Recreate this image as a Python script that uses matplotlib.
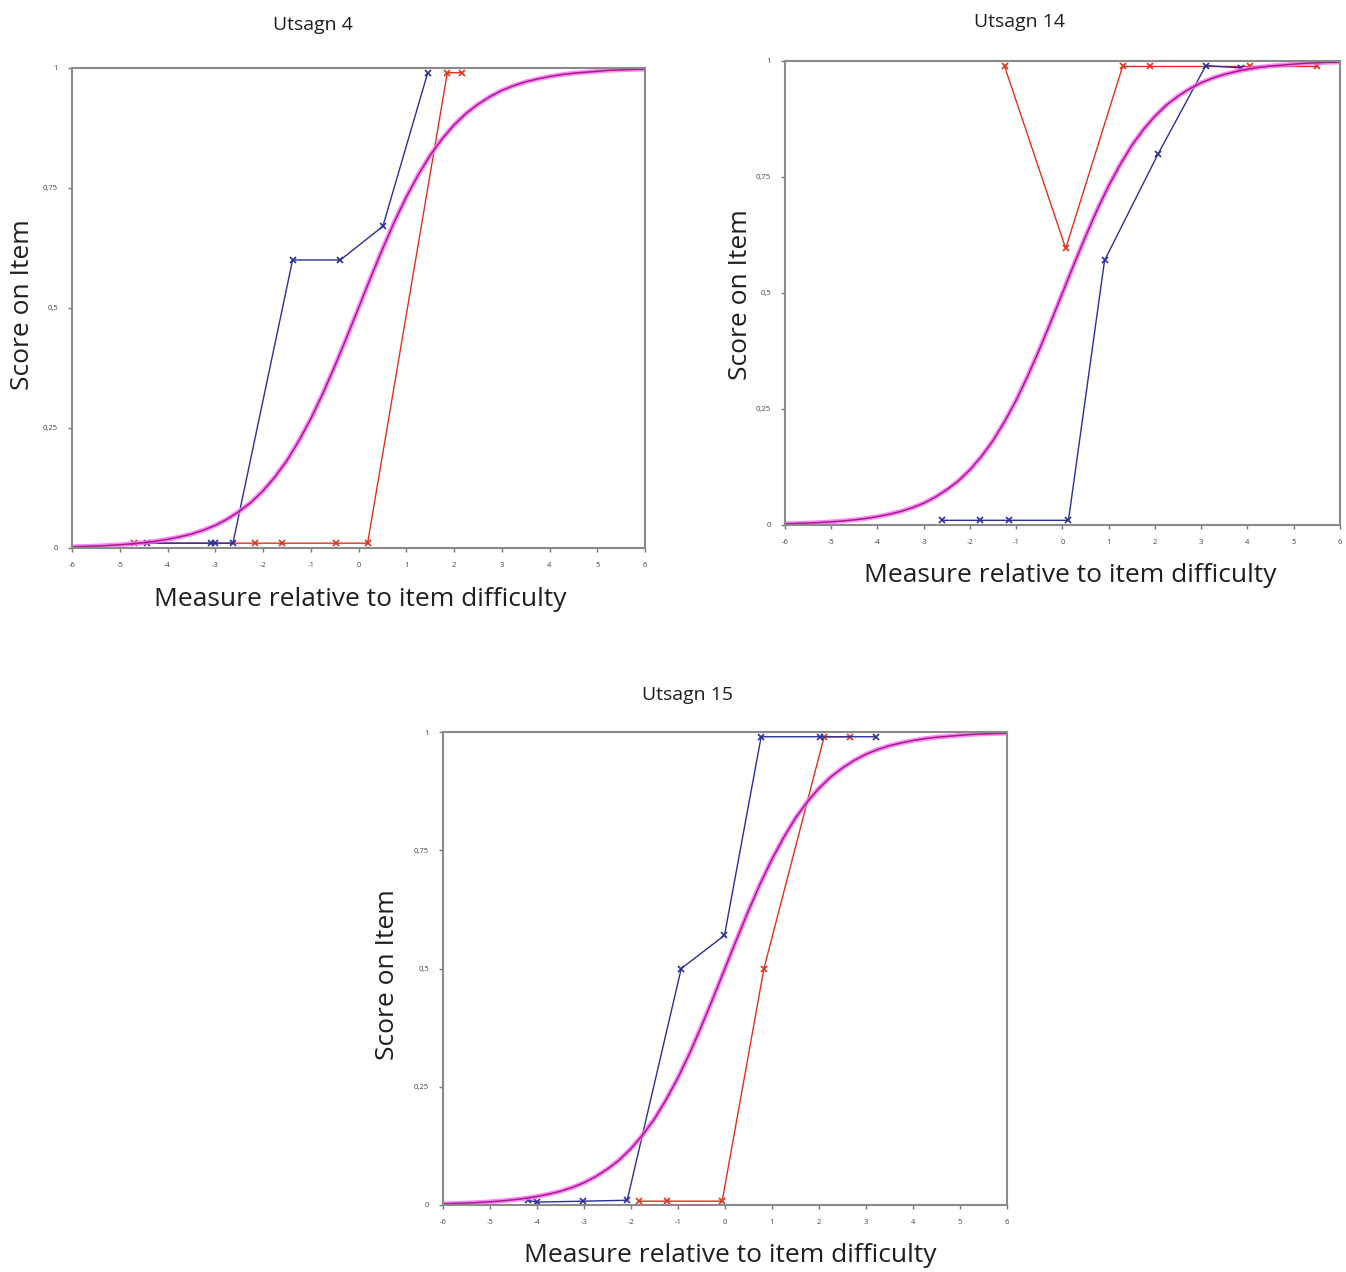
import numpy as np
import matplotlib
matplotlib.use("Agg")
import matplotlib.pyplot as plt

plt.rcParams['font.family'] = ['Open Sans', 'DejaVu Sans']

model_x = np.arange(-6, 6.01, 0.25)
model_y = [0.0025, 0.0032, 0.0041, 0.0052, 0.0067, 0.0086, 0.011, 0.014,
           0.018, 0.023, 0.029, 0.037, 0.047, 0.060, 0.076, 0.095,
           0.119, 0.148, 0.182, 0.223, 0.269, 0.321, 0.378, 0.438,
           0.500,
           0.562, 0.622, 0.679, 0.731, 0.777, 0.818, 0.852, 0.881,
           0.905, 0.924, 0.940, 0.953, 0.963, 0.971, 0.977, 0.982,
           0.986, 0.989, 0.991, 0.993, 0.995, 0.996, 0.997, 0.9975]

# Utsagn 4
u4_blue_x = [-4.42, -3.09, -3.01, -2.63, -1.38, -0.38, 0.51, 1.45]
u4_blue_y = [0.01, 0.01, 0.01, 0.01, 0.60, 0.60, 0.67, 0.99]
u4_red_x = [-4.70, -2.17, -1.60, -0.47, 0.19, 1.86, 2.17]
u4_red_y = [0.01, 0.01, 0.01, 0.01, 0.01, 0.99, 0.99]

# Utsagn 14
u14_blue_x = [-2.60, -1.78, -1.15, 0.13, 0.91, 2.07, 3.10, 3.85]
u14_blue_y = [0.01, 0.01, 0.01, 0.01, 0.57, 0.80, 0.99, 0.985]
u14_red_x = [-1.25, 0.07, 1.30, 1.90, 4.05, 5.50]
u14_red_y = [0.988, 0.596, 0.988, 0.988, 0.988, 0.988]

# Utsagn 15
u15_blue_x = [-4.20, -4.00, -3.03, -2.08, -0.93, -0.01, 0.77, 2.02, 3.22]
u15_blue_y = [0.01, 0.006, 0.008, 0.01, 0.50, 0.57, 0.99, 0.99, 0.99]
u15_red_x = [-1.82, -1.23, -0.06, 0.83, 2.11, 2.66]
u15_red_y = [0.008, 0.008, 0.008, 0.50, 0.99, 0.99]

x_ticks = list(range(-6, 7))
y_ticks = [0, 0.25, 0.5, 0.75, 1]
y_tick_labels = ["0", "0,25", "0,5", "0,75", "1"]

panels = [
    # title, blue, red, axes rect, title pos, xlabel pos, ylabel pos
    ("Utsagn 4", (u4_blue_x, u4_blue_y), (u4_red_x, u4_red_y),
     [0.0535, 0.5692, 0.4257, 0.3774], (0.42, 1.09), (0.503, -0.108), (-0.087, 0.506)),
    ("Utsagn 14", (u14_blue_x, u14_blue_y), (u14_red_x, u14_red_y),
     [0.5832, 0.5873, 0.4123, 0.3648], (0.423, 1.084), (0.514, -0.108), (-0.081, 0.496)),
    ("Utsagn 15", (u15_blue_x, u15_blue_y), (u15_red_x, u15_red_y),
     [0.3291, 0.0527, 0.4190, 0.3718], (0.434, 1.078), (0.509, -0.106), (-0.0975, 0.486)),
]

fig = plt.figure(figsize=(13.46, 12.72), dpi=100)

for title, blue, red, rect, tpos, xpos, ypos in panels:
    ax = fig.add_axes(rect)
    ax.plot(red[0], red[1], color='#e0301e', lw=1.0, marker='x', ms=4, mew=1.2)
    ax.plot(blue[0], blue[1], color='#2a2f9a', lw=1.0, marker='x', ms=4, mew=1.2)
    ax.plot(model_x, model_y, color='#ff66ff', lw=3.4, alpha=0.8, solid_capstyle='round')
    ax.plot(model_x, model_y, color='#a0207f', lw=1.1)

    ax.set_xlim(-6, 6)
    ax.set_ylim(0, 1)
    ax.set_xticks(x_ticks)
    ax.set_xticklabels([str(t) for t in x_ticks])
    ax.set_yticks(y_ticks)
    ax.set_yticklabels(y_tick_labels)
    ax.tick_params(direction='out', length=3, width=1, color='#777777',
                   labelsize=5.5, labelcolor='#444444', pad=7)
    for s in ax.spines.values():
        s.set_color('#8a8a8a')
        s.set_linewidth(1.5)

    ax.text(tpos[0], tpos[1], title, transform=ax.transAxes,
            ha='center', va='center', fontsize=14, color='#1e1e1e')
    ax.text(xpos[0], xpos[1], "Measure relative to item difficulty",
            transform=ax.transAxes, ha='center', va='center',
            fontsize=19, color='#1e1e1e')
    ax.text(ypos[0], ypos[1], "Score on Item", transform=ax.transAxes,
            ha='center', va='center', rotation=90, fontsize=19,
            color='#1e1e1e')

fig.savefig("out.png", dpi=100, facecolor='white')
